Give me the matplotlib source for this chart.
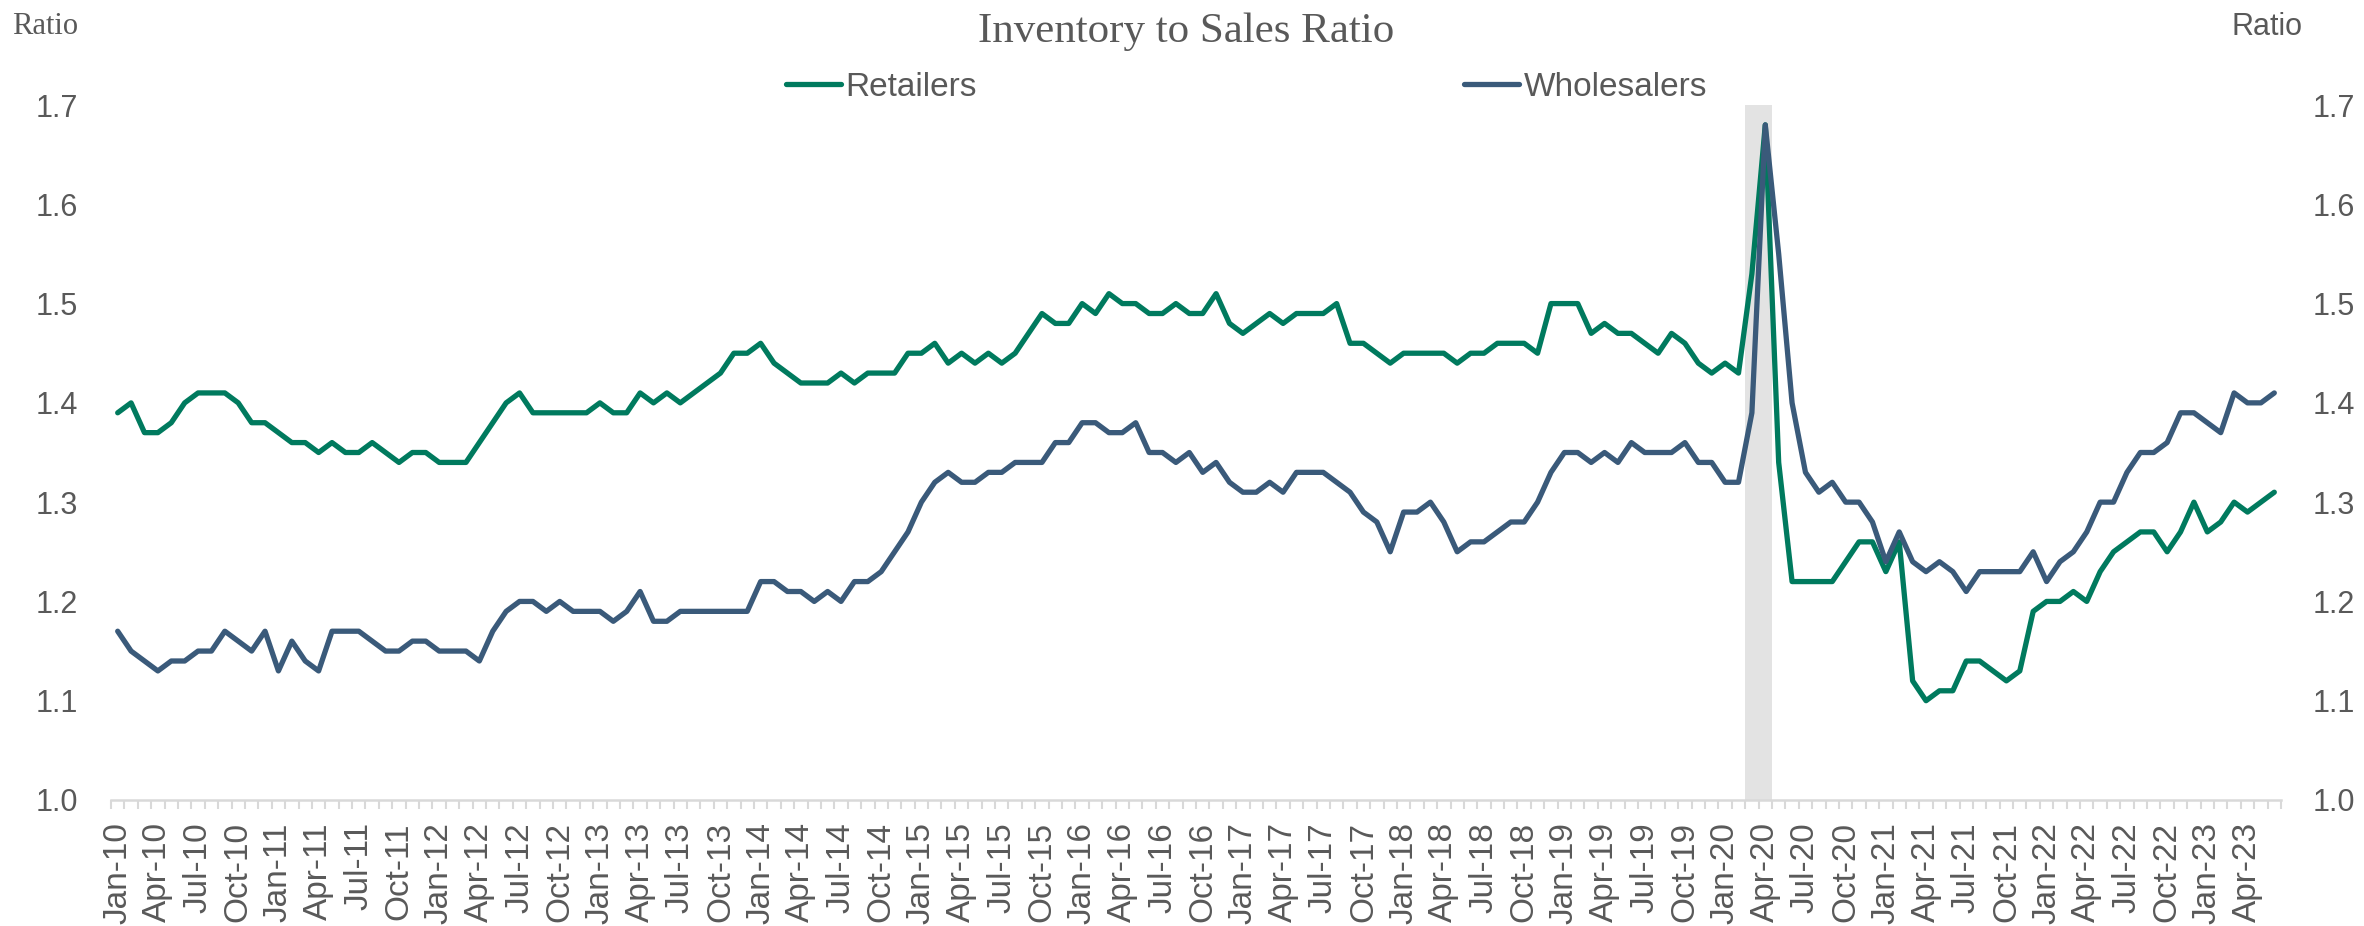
import pandas as pd
import matplotlib.pyplot as plt

# monthly inventory / sales ratios, Jan-2010 .. Jun-2023
retailers = [
    1.39, 1.40, 1.37, 1.37, 1.38, 1.40, 1.41, 1.41, 1.41, 1.40,
    1.38, 1.38, 1.37, 1.36, 1.36, 1.35, 1.36, 1.35, 1.35, 1.36,
    1.35, 1.34, 1.35, 1.35, 1.34, 1.34, 1.34, 1.36, 1.38, 1.40,
    1.41, 1.39, 1.39, 1.39, 1.39, 1.39, 1.40, 1.39, 1.39, 1.41,
    1.40, 1.41, 1.40, 1.41, 1.42, 1.43, 1.45, 1.45, 1.46, 1.44,
    1.43, 1.42, 1.42, 1.42, 1.43, 1.42, 1.43, 1.43, 1.43, 1.45,
    1.45, 1.46, 1.44, 1.45, 1.44, 1.45, 1.44, 1.45, 1.47, 1.49,
    1.48, 1.48, 1.50, 1.49, 1.51, 1.50, 1.50, 1.49, 1.49, 1.50,
    1.49, 1.49, 1.51, 1.48, 1.47, 1.48, 1.49, 1.48, 1.49, 1.49,
    1.49, 1.50, 1.46, 1.46, 1.45, 1.44, 1.45, 1.45, 1.45, 1.45,
    1.44, 1.45, 1.45, 1.46, 1.46, 1.46, 1.45, 1.50, 1.50, 1.50,
    1.47, 1.48, 1.47, 1.47, 1.46, 1.45, 1.47, 1.46, 1.44, 1.43,
    1.44, 1.43, 1.53, 1.68, 1.34, 1.22, 1.22, 1.22, 1.22, 1.24,
    1.26, 1.26, 1.23, 1.26, 1.12, 1.10, 1.11, 1.11, 1.14, 1.14,
    1.13, 1.12, 1.13, 1.19, 1.20, 1.20, 1.21, 1.20, 1.23, 1.25,
    1.26, 1.27, 1.27, 1.25, 1.27, 1.30, 1.27, 1.28, 1.30, 1.29,
    1.30, 1.31,
]
wholesalers = [
    1.17, 1.15, 1.14, 1.13, 1.14, 1.14, 1.15, 1.15, 1.17, 1.16,
    1.15, 1.17, 1.13, 1.16, 1.14, 1.13, 1.17, 1.17, 1.17, 1.16,
    1.15, 1.15, 1.16, 1.16, 1.15, 1.15, 1.15, 1.14, 1.17, 1.19,
    1.20, 1.20, 1.19, 1.20, 1.19, 1.19, 1.19, 1.18, 1.19, 1.21,
    1.18, 1.18, 1.19, 1.19, 1.19, 1.19, 1.19, 1.19, 1.22, 1.22,
    1.21, 1.21, 1.20, 1.21, 1.20, 1.22, 1.22, 1.23, 1.25, 1.27,
    1.30, 1.32, 1.33, 1.32, 1.32, 1.33, 1.33, 1.34, 1.34, 1.34,
    1.36, 1.36, 1.38, 1.38, 1.37, 1.37, 1.38, 1.35, 1.35, 1.34,
    1.35, 1.33, 1.34, 1.32, 1.31, 1.31, 1.32, 1.31, 1.33, 1.33,
    1.33, 1.32, 1.31, 1.29, 1.28, 1.25, 1.29, 1.29, 1.30, 1.28,
    1.25, 1.26, 1.26, 1.27, 1.28, 1.28, 1.30, 1.33, 1.35, 1.35,
    1.34, 1.35, 1.34, 1.36, 1.35, 1.35, 1.35, 1.36, 1.34, 1.34,
    1.32, 1.32, 1.39, 1.68, 1.55, 1.40, 1.33, 1.31, 1.32, 1.30,
    1.30, 1.28, 1.24, 1.27, 1.24, 1.23, 1.24, 1.23, 1.21, 1.23,
    1.23, 1.23, 1.23, 1.25, 1.22, 1.24, 1.25, 1.27, 1.30, 1.30,
    1.33, 1.35, 1.35, 1.36, 1.39, 1.39, 1.38, 1.37, 1.41, 1.40,
    1.40, 1.41,
]
months = pd.date_range("2010-01-01", periods=len(retailers), freq="MS")
labels = [d.strftime("%b-%y") for d in months]
recession = ["2020-03", "2020-04"]

GREEN = "#007a5e"
NAVY = "#3a5a7a"
GREY_TXT = "#595959"
AXIS = "#d9d9d9"

plt.rcParams["font.family"] = ["Liberation Sans", "DejaVu Sans"]

fig = plt.figure(figsize=(23.64, 9.26), dpi=100)
ax = fig.add_axes([0.04695, 0.13607, 0.91794, 0.75053])

x = list(range(len(months)))

# recession shading: one band per month, category-wide
for r in recession:
    i = labels.index(pd.Timestamp(r).strftime("%b-%y"))
    ax.axvspan(i - 0.5, i + 0.5, color="#e3e3e3", lw=0, zorder=0)

ax.plot(x, retailers, color=GREEN, lw=3.8, solid_joinstyle="round",
        solid_capstyle="round", label="Retailers", zorder=3)
ax.plot(x, wholesalers, color=NAVY, lw=3.8, solid_joinstyle="round",
        solid_capstyle="round", label="Wholesalers", zorder=4)

ax.set_xlim(-0.5, len(months) - 0.5)
ax.set_ylim(1.0, 1.7)

yt = [1.0, 1.1, 1.2, 1.3, 1.4, 1.5, 1.6, 1.7]
ax.set_yticks(yt)
ax.set_yticklabels([f"{v:.1f}" for v in yt])
ax.tick_params(axis="y", length=0, pad=24, labelsize=22, labelcolor=GREY_TXT)

ax.set_xticks(x[::3])
ax.set_xticklabels(labels[::3], rotation=90)
ax.set_xticks([i - 0.5 for i in range(len(months) + 1)], minor=True)
ax.tick_params(axis="x", which="major", length=0, pad=16, labelsize=24,
               labelcolor=GREY_TXT)
ax.tick_params(axis="x", which="minor", length=6.5, width=1.5, color=AXIS,
               direction="out")

for s in ["top", "right", "left"]:
    ax.spines[s].set_visible(False)
ax.spines["bottom"].set_color(AXIS)
ax.spines["bottom"].set_linewidth(1.8)

ax2 = ax.twinx()
ax2.set_ylim(ax.get_ylim())
ax2.set_yticks(yt)
ax2.set_yticklabels([f"{v:.1f}" for v in yt])
ax2.tick_params(axis="y", length=0, pad=23, labelsize=22, labelcolor=GREY_TXT)
for s in ax2.spines.values():
    s.set_visible(False)

fig.text(0.5017, 0.966, "Inventory to Sales Ratio", ha="center", va="center",
         fontsize=31, color=GREY_TXT, family=["Liberation Serif", "DejaVu Serif"])
fig.text(0.005, 0.971, "Ratio", ha="left", va="center", fontsize=22,
         color=GREY_TXT, family=["Liberation Serif", "DejaVu Serif"])
fig.text(0.959, 0.971, "Ratio", ha="center", va="center", fontsize=22,
         color=GREY_TXT)

fig.legend(loc="center", bbox_to_anchor=(0.5273, 0.906), ncol=2, frameon=False,
           fontsize=24, labelcolor=GREY_TXT, handlelength=1.65,
           handletextpad=0.15, columnspacing=14.6, borderaxespad=0)

fig.savefig("out.png", dpi=100)
